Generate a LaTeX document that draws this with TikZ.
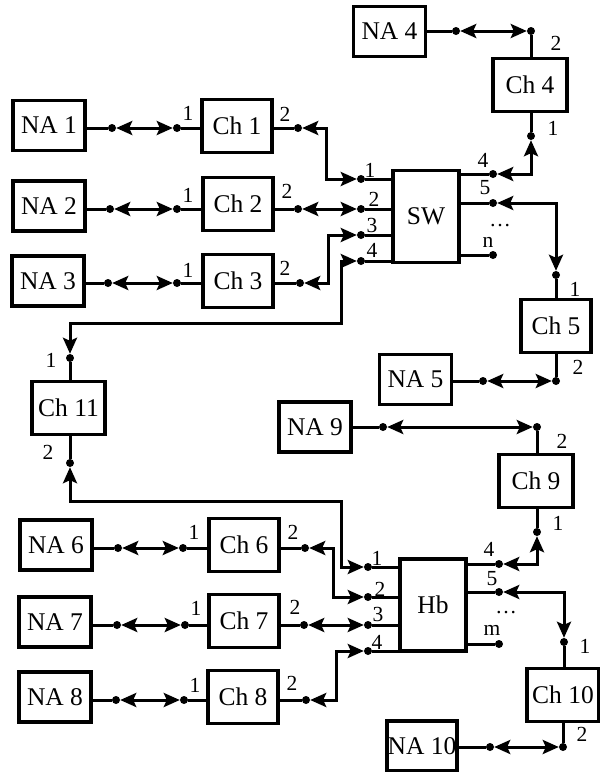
\documentclass[tikz,border=0pt]{standalone}
\usepackage{fontspec}
\setmainfont{Liberation Serif}
\usetikzlibrary{arrows.meta}

\begin{document}
\begin{tikzpicture}[
    x=1pt, y=-1pt,
    block/.style={rectangle, draw, line width=3.3pt, minimum width=72pt, minimum height=50pt, inner sep=0pt, font=\fontsize{25.5}{27}\selectfont},
    chan/.style={block, minimum width=70pt, minimum height=53pt},
    hub/.style={block, minimum width=66pt, minimum height=92pt},
    port/.style={circle, fill, inner sep=0pt, minimum size=8pt},
    num/.style={inner sep=0pt, font=\fontsize{21.5}{23}\selectfont},
    wire/.style={line width=3pt},
    link/.style={wire, {Stealth[length=16pt,width=14pt,inset=3pt]}-{Stealth[length=16pt,width=14pt,inset=3pt]}}
]
    \useasboundingbox (0,0) rectangle (600,772);

    % Switch and hub
    \node[hub] (SW) at (426,216.5) {SW};
    \node[hub] (Hb) at (433,605) {Hb};

    % Node adapters
    \node[block] (NA1) at (49,125.5) {NA 1};
    \node[block] (NA2) at (49,206) {NA 2};
    \node[block] (NA3) at (48,281) {NA 3};
    \node[block] (NA4) at (389.5,31.5) {NA 4};
    \node[block] (NA5) at (415.5,379.5) {NA 5};
    \node[block] (NA6) at (56,545) {NA 6};
    \node[block] (NA7) at (55,622) {NA 7};
    \node[block] (NA8) at (55,697) {NA 8};
    \node[block] (NA9) at (315,427) {NA 9};
    \node[block, minimum width=70pt] (NA10) at (422,746) {NA 10};

    % Channels
    \node[chan] (Ch1) at (237,126) {Ch 1};
    \node[chan] (Ch2) at (238,204) {Ch 2};
    \node[chan] (Ch3) at (238,281) {Ch 3};
    \node[chan, minimum width=74pt] (Ch4) at (530,85) {Ch 4};
    \node[chan] (Ch5) at (556,326) {Ch 5};
    \node[chan] (Ch6) at (244,545) {Ch 6};
    \node[chan] (Ch7) at (244,621) {Ch 7};
    \node[chan] (Ch8) at (243,697) {Ch 8};
    \node[chan, minimum width=74pt] (Ch9) at (536,481) {Ch 9};
    \node[chan, minimum width=72pt] (Ch10) at (563,695) {Ch 10};
    \node[chan, minimum width=73pt] (Ch11) at (68.5,408) {Ch 11};

    % Ports
    \node[port] (a1) at (112,128) {};  \node[port] (b1) at (177,128) {};  \node[port] (c1) at (298,128) {};
    \node[port] (a2) at (110,209) {};  \node[port] (b2) at (177,209) {};  \node[port] (c2) at (298,209) {};
    \node[port] (a3) at (108,283) {};  \node[port] (b3) at (177,283) {};  \node[port] (c3) at (300,283) {};
    \node[port] (sw1) at (361,179) {}; \node[port] (sw2) at (361,209) {};
    \node[port] (sw3) at (361,235) {}; \node[port] (sw4) at (361,261) {};
    \node[port] (swo4) at (493,174) {}; \node[port] (swo5) at (493,203) {}; \node[port] (swon) at (493,255) {};
    \node[port] (a4) at (456,31) {};   \node[port] (c4t) at (531,31) {};  \node[port] (c4b) at (531,136) {};
    \node[port] (a5) at (483,381) {};  \node[port] (c5t) at (556,275) {}; \node[port] (c5b) at (556,381) {};
    \node[port] (k1) at (70,358) {};   \node[port] (k2) at (70,463) {};
    \node[port] (a9) at (383,427) {};  \node[port] (c9t) at (537,427) {}; \node[port] (c9b) at (537,532) {};
    \node[port] (a6) at (118,548) {};  \node[port] (b6) at (183,548) {};  \node[port] (c6) at (305,548) {};
    \node[port] (a7) at (117,625) {};  \node[port] (b7) at (185,625) {};  \node[port] (c7) at (304,625) {};
    \node[port] (a8) at (116,700) {};  \node[port] (b8) at (184,700) {};  \node[port] (c8) at (306,700) {};
    \node[port] (hb1) at (368,567) {}; \node[port] (hb2) at (368,597) {};
    \node[port] (hb3) at (368,625) {}; \node[port] (hb4) at (368,651) {};
    \node[port] (hbo4) at (499,564) {}; \node[port] (hbo5) at (499,592) {}; \node[port] (hbom) at (499,644) {};
    \node[port] (a10) at (490,747) {}; \node[port] (c10t) at (564,642) {}; \node[port] (c10b) at (563,747) {};

    % Stubs to the boxes
    \foreach \i in {1,2,3,6,7,8} {
        \draw[wire] (NA\i.east |- a\i) -- (a\i);
        \draw[wire] (b\i) -- (b\i -| Ch\i.west);
        \draw[wire] (Ch\i.east |- c\i) -- (c\i);
    }
    \foreach \p in {sw1,sw2,sw3,sw4} \draw[wire] (\p) -- (\p -| SW.west);
    \foreach \p in {swo4,swo5,swon} \draw[wire] (\p) -- (\p -| SW.east);
    \foreach \p in {hb1,hb2,hb3,hb4} \draw[wire] (\p) -- (\p -| Hb.west);
    \foreach \p in {hbo4,hbo5,hbom} \draw[wire] (\p) -- (\p -| Hb.east);
    \draw[wire] (NA4.east |- a4) -- (a4);
    \draw[wire] (NA5.east |- a5) -- (a5);
    \draw[wire] (NA9.east |- a9) -- (a9);
    \draw[wire] (NA10.east |- a10) -- (a10);
    \draw[wire] (c4t) -- (c4t |- Ch4.north);   \draw[wire] (c4b) -- (c4b |- Ch4.south);
    \draw[wire] (c5t) -- (c5t |- Ch5.north);   \draw[wire] (c5b) -- (c5b |- Ch5.south);
    \draw[wire] (c9t) -- (c9t |- Ch9.north);   \draw[wire] (c9b) -- (c9b |- Ch9.south);
    \draw[wire] (c10t) -- (c10t |- Ch10.north); \draw[wire] (c10b) -- (c10b |- Ch10.south);
    \draw[wire] (k1) -- (k1 |- Ch11.north);    \draw[wire] (k2) -- (k2 |- Ch11.south);

    % Two-way links
    \foreach \i in {1,2,3,6,7,8} \draw[link] (a\i) -- (b\i);
    \draw[link] (a4) -- (c4t);
    \draw[link] (a5) -- (c5b);
    \draw[link] (a9) -- (c9t);
    \draw[link] (a10) -- (c10b);
    \draw[link] (c1) -- ++(28,0) |- (sw1);
    \draw[link] (c2) -- (sw2);
    \draw[link] (c3) -- ++(28,0) |- (sw3);
    \draw[link] (sw4) -- ++(-20,0) -- ++(0,62) -| (k1);
    \draw[link] (swo4) -| (c4b);
    \draw[link] (swo5) -| (c5t);
    \draw[link] (k2) -- ++(0,38) -- ++(271,0) |- (hb1);
    \draw[link] (c6) -- ++(28,0) |- (hb2);
    \draw[link] (c7) -- (hb3);
    \draw[link] (c8) -- ++(30,0) |- (hb4);
    \draw[link] (hbo4) -| (c9b);
    \draw[link] (hbo5) -| (c10t);

    % Port numbers
    \node[num] (n1a) at (188,113) {1};  \node[num] (n1b) at (285,114) {2};
    \node[num] (n2a) at (188,195) {1};  \node[num] (n2b) at (287,191) {2};
    \node[num] (n3a) at (188,270) {1};  \node[num] (n3b) at (285,268) {2};
    \node[num] (ns1) at (370,170) {1};  \node[num] (ns2) at (374,199) {2};
    \node[num] (ns3) at (372,225) {3};  \node[num] (ns4) at (372,250) {4};
    \node[num] (nso4) at (483,160) {4}; \node[num] (nso5) at (485,188) {5};
    \node[num] (nsod) at (500,226) {\dots}; \node[num] (nson) at (488,242) {n};
    \node[num] (n4a) at (556,43) {2};   \node[num] (n4b) at (553,128) {1};
    \node[num] (n5a) at (575,289) {1};  \node[num] (n5b) at (578,367) {2};
    \node[num] (n11a) at (51,360) {1};  \node[num] (n11b) at (48,452) {2};
    \node[num] (n9a) at (562,441) {2};  \node[num] (n9b) at (558,523) {1};
    \node[num] (nh1) at (377,558) {1};  \node[num] (nh2) at (380,589) {2};
    \node[num] (nh3) at (378,614) {3};  \node[num] (nh4) at (377,642) {4};
    \node[num] (nho4) at (489,549) {4}; \node[num] (nho5) at (492,579) {5};
    \node[num] (nhod) at (506,613) {\dots}; \node[num] (nhom) at (492,630) {m};
    \node[num] (n6a) at (194,532) {1};  \node[num] (n6b) at (293,532) {2};
    \node[num] (n7a) at (196,608) {1};  \node[num] (n7b) at (295,607) {2};
    \node[num] (n8a) at (195,685) {1};  \node[num] (n8b) at (292,683) {2};
    \node[num] (n10a) at (585,646) {1}; \node[num] (n10b) at (582,734) {2};
\end{tikzpicture}
\end{document}
